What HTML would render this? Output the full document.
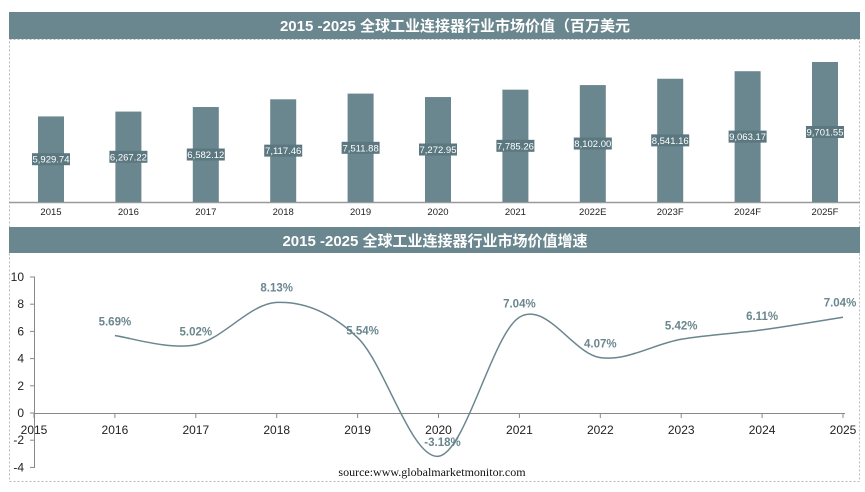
<!DOCTYPE html>
<html><head><meta charset="utf-8"><style>
body{margin:0;background:#fff;width:865px;height:487px;overflow:hidden;font-family:"Liberation Sans","Noto Sans CJK SC",sans-serif}
</style></head><body>
<svg width="865" height="487" xmlns="http://www.w3.org/2000/svg" font-family="Liberation Sans, Noto Sans CJK SC, sans-serif">
<rect x="9.5" y="39.5" width="850" height="442" fill="none" stroke="#bbb" stroke-dasharray="2,2"/>
<rect x="9" y="12" width="851" height="27" fill="#6a868e"/>
<text x="455" y="31" fill="#fff" font-size="15" font-weight="bold" text-anchor="middle">2015 -2025 全球工业连接器行业市场价值（百万美元</text>
<line x1="9" y1="202.5" x2="860" y2="202.5" stroke="#999" stroke-width="1.5"/>
<g id="bars"></g>
<rect x="9" y="227" width="851" height="26" fill="#6a868e"/>
<text x="435" y="246" fill="#fff" font-size="15" font-weight="bold" text-anchor="middle">2015 -2025 全球工业连接器行业市场价值增速</text>
<g font-size="12" fill="#222" text-anchor="end" id="yax"></g>
<line x1="34.5" y1="277" x2="34.5" y2="468" stroke="#888"/>
<line x1="34" y1="413.5" x2="845" y2="413.5" stroke="#888"/>
<g id="line"></g>
<text x="432" y="476" font-family="Liberation Serif, serif" font-size="12" fill="#111" text-anchor="middle">source:www.globalmarketmonitor.com</text>
</svg>
<script>
(function(){
var ns="http://www.w3.org/2000/svg";
function el(t,a,p,txt){var e=document.createElementNS(ns,t);for(var k in a)e.setAttribute(k,a[k]);if(txt!=null)e.textContent=txt;p.appendChild(e);return e;}
var bars=document.getElementById('bars');
var vals=[5929.74,6267.22,6582.12,7117.46,7511.88,7272.95,7785.26,8102.00,8541.16,9063.17,9701.55];
var yrs=['2015','2016','2017','2018','2019','2020','2021','2022E','2023F','2024F','2025F'];
for(var i=0;i<11;i++){var cx=51+77.4*i,h=vals[i]*0.01443,by=202-h;
el('rect',{x:cx-13,y:by,width:26,height:h,fill:'#6a868e'},bars);
var lbl=vals[i].toLocaleString('en-US',{minimumFractionDigits:2});
var cy=202-h/2;
el('rect',{x:cx-19,y:cy-6,width:38,height:12,fill:'#5b7880'},bars);
el('text',{x:cx,y:cy+3.5,'font-size':'9.5',fill:'#fff','text-anchor':'middle'},bars,lbl);
el('text',{x:cx,y:215,'font-size':'9.5',fill:'#222','text-anchor':'middle'},bars,yrs[i]);}
var yax=document.getElementById('yax');
for(var v=-4;v<=10;v+=2){var y=413-13.6*v;el('text',{x:24,y:y+4},yax,''+v);el('line',{x1:30,y1:y,x2:35,y2:y,stroke:'#888'},yax);}
var lg=document.getElementById('line');
for(var i=0;i<=10;i++){var x=34+80.9*i;el('line',{x1:x,y1:413,x2:x,y2:418,stroke:'#888'},lg);
el('text',{x:x,y:434,'font-size':'12',fill:'#222','text-anchor':'middle'},lg,''+(2015+i));}
var g=[5.69,5.02,8.13,5.54,-3.18,7.04,4.07,5.42,6.11,7.04];
var P=g.map(function(v,i){return[34+80.9*(i+1),413-13.6*v];});
var d='M'+P[0][0]+','+P[0][1];
for(var i=0;i<P.length-1;i++){var p0=P[Math.max(i-1,0)],p1=P[i],p2=P[i+1],p3=P[Math.min(i+2,P.length-1)];
d+=' C'+(p1[0]+(p2[0]-p0[0])/6)+','+(p1[1]+(p2[1]-p0[1])/6)+' '+(p2[0]-(p3[0]-p1[0])/6)+','+(p2[1]-(p3[1]-p1[1])/6)+' '+p2[0]+','+p2[1];}
el('path',{d:d,fill:'none',stroke:'#6a868e','stroke-width':'1.5'},lg);
var off=[[0,-10],[0,-9],[0,-11],[5,-3],[4,-10],[0,-10],[0,-10],[0,-10],[0,-10],[-3,-11]];
g.forEach(function(v,i){el('text',{x:P[i][0]+off[i][0],y:P[i][1]+off[i][1],'font-size':'11.5','font-weight':'bold',fill:'#6a868e','text-anchor':'middle'},lg,v.toFixed(2)+'%');});
})();
</script>
</body></html>
